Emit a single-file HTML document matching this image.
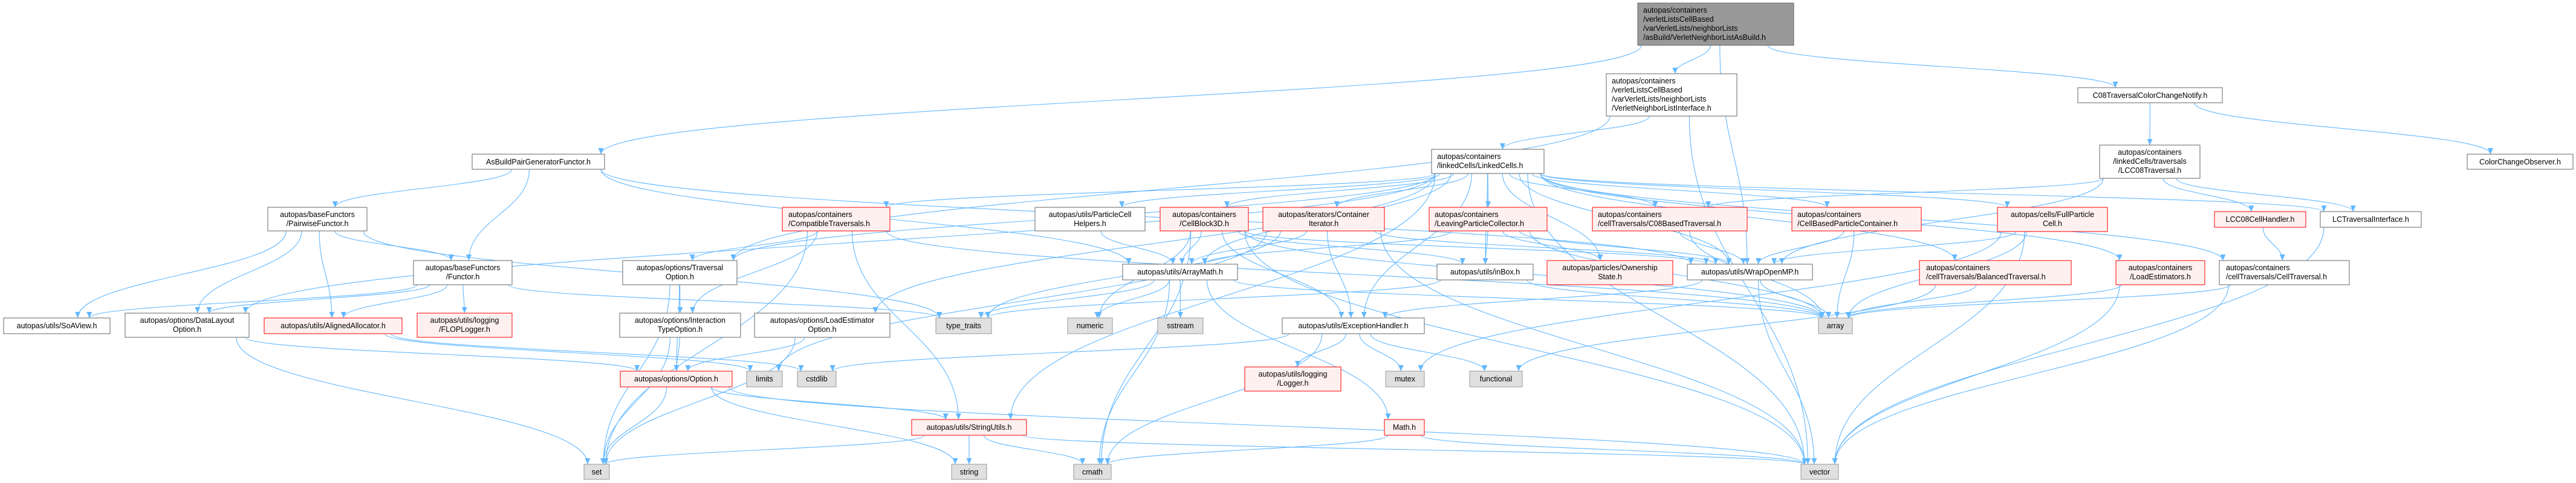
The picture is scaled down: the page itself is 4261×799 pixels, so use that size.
<!DOCTYPE html>
<html><head><meta charset="utf-8"><style>
html,body{margin:0;padding:0;background:#fff;width:4261px;height:799px;overflow:hidden}
svg{display:block}
text{font-family:"Liberation Sans",sans-serif;font-size:12.5px;fill:#000}
</style></head><body>
<svg id="g" width="4261" height="799" viewBox="0 0 4261 799" xmlns="http://www.w3.org/2000/svg">
<defs><marker id="ah" markerWidth="11" markerHeight="9" refX="10" refY="4.5" orient="auto" markerUnits="userSpaceOnUse"><path d="M0,0 L10,4.5 L0,9 z" fill="#63b8ff"/></marker></defs>
<g id="edges" fill="none" stroke="#63b8ff" stroke-width="1.1"></g>
<g id="nodes">
<rect x="2709" y="5" width="258" height="70" fill="#999" stroke="#666"/>
<text x="2718" y="21">autopas/containers</text><text x="2718" y="36">/verletListsCellBased</text><text x="2718" y="51">/varVerletLists/neighborLists</text><text x="2718" y="66">/asBuild/VerletNeighborListAsBuild.h</text>
<rect x="781" y="255" width="219" height="25" fill="#fff" stroke="#666"/><text x="890.5" y="272" text-anchor="middle">AsBuildPairGeneratorFunctor.h</text>
<rect x="443" y="343" width="164" height="39" fill="#fff" stroke="#666"/><text x="525" y="359" text-anchor="middle">autopas/baseFunctors</text><text x="525" y="374" text-anchor="middle">/PairwiseFunctor.h</text>
<rect x="684" y="431" width="163" height="40" fill="#fff" stroke="#666"/><text x="765.5" y="447" text-anchor="middle">autopas/baseFunctors</text><text x="765.5" y="462" text-anchor="middle">/Functor.h</text>
<rect x="6" y="526" width="176" height="26" fill="#fff" stroke="#666"/><text x="94" y="543" text-anchor="middle">autopas/utils/SoAView.h</text>
<rect x="207" y="518" width="205" height="40" fill="#fff" stroke="#666"/><text x="309.5" y="534" text-anchor="middle">autopas/options/DataLayout</text><text x="309.5" y="549" text-anchor="middle">Option.h</text>
<rect x="437" y="526" width="228" height="26" fill="#fff0f0" stroke="#f00"/><text x="551" y="543" text-anchor="middle">autopas/utils/AlignedAllocator.h</text>
<rect x="690" y="518" width="157" height="40" fill="#fff0f0" stroke="#f00"/><text x="768.5" y="534" text-anchor="middle">autopas/utils/logging</text><text x="768.5" y="549" text-anchor="middle">/FLOPLogger.h</text>
<rect x="1030" y="431" width="189" height="40" fill="#fff" stroke="#666"/><text x="1124.5" y="447" text-anchor="middle">autopas/options/Traversal</text><text x="1124.5" y="462" text-anchor="middle">Option.h</text>
<rect x="1025" y="518" width="200" height="40" fill="#fff" stroke="#666"/><text x="1125" y="534" text-anchor="middle">autopas/options/Interaction</text><text x="1125" y="549" text-anchor="middle">TypeOption.h</text>
<rect x="1248" y="518" width="224" height="40" fill="#fff" stroke="#666"/><text x="1360" y="534" text-anchor="middle">autopas/options/LoadEstimator</text><text x="1360" y="549" text-anchor="middle">Option.h</text>
<rect x="1026" y="614" width="185" height="26" fill="#fff0f0" stroke="#f00"/><text x="1118.5" y="631" text-anchor="middle">autopas/options/Option.h</text>
<rect x="1235" y="614" width="59" height="26" fill="#e0e0e0" stroke="#999"/><text x="1264.5" y="631" text-anchor="middle">limits</text>
<rect x="1319" y="614" width="64" height="26" fill="#e0e0e0" stroke="#999"/><text x="1351" y="631" text-anchor="middle">cstdlib</text>
<rect x="966" y="768" width="42" height="25" fill="#e0e0e0" stroke="#999"/><text x="987" y="785" text-anchor="middle">set</text>
<rect x="1548" y="526" width="92" height="26" fill="#e0e0e0" stroke="#999"/><text x="1594" y="543" text-anchor="middle">type_traits</text>
<rect x="1766" y="526" width="74" height="26" fill="#e0e0e0" stroke="#999"/><text x="1803" y="543" text-anchor="middle">numeric</text>
<rect x="1915" y="526" width="75" height="26" fill="#e0e0e0" stroke="#999"/><text x="1952.5" y="543" text-anchor="middle">sstream</text>
<rect x="1857" y="437" width="190" height="26" fill="#fff" stroke="#666"/><text x="1952" y="454" text-anchor="middle">autopas/utils/ArrayMath.h</text>
<rect x="1508" y="694" width="190" height="26" fill="#fff0f0" stroke="#f00"/><text x="1603" y="711" text-anchor="middle">autopas/utils/StringUtils.h</text>
<rect x="1574" y="768" width="58" height="25" fill="#e0e0e0" stroke="#999"/><text x="1603" y="785" text-anchor="middle">string</text>
<rect x="1776" y="768" width="62" height="25" fill="#e0e0e0" stroke="#999"/><text x="1807" y="785" text-anchor="middle">cmath</text>
<rect x="2121" y="526" width="235" height="26" fill="#fff" stroke="#666"/><text x="2238.5" y="543" text-anchor="middle">autopas/utils/ExceptionHandler.h</text>
<rect x="2059" y="607" width="159" height="40" fill="#fff0f0" stroke="#f00"/><text x="2138.5" y="623" text-anchor="middle">autopas/utils/logging</text><text x="2138.5" y="638" text-anchor="middle">/Logger.h</text>
<rect x="1294" y="343" width="178" height="39" fill="#fff0f0" stroke="#f00"/><text x="1304" y="359">autopas/containers</text><text x="1304" y="374">/CompatibleTraversals.h</text>
<rect x="1712" y="343" width="182" height="39" fill="#fff" stroke="#666"/><text x="1803" y="359" text-anchor="middle">autopas/utils/ParticleCell</text><text x="1803" y="374" text-anchor="middle">Helpers.h</text>
<rect x="1919" y="343" width="146" height="39" fill="#fff0f0" stroke="#f00"/><text x="1992" y="359" text-anchor="middle">autopas/containers</text><text x="1992" y="374" text-anchor="middle">/CellBlock3D.h</text>
<rect x="2089" y="343" width="201" height="39" fill="#fff0f0" stroke="#f00"/><text x="2189.5" y="359" text-anchor="middle">autopas/iterators/Container</text><text x="2189.5" y="374" text-anchor="middle">Iterator.h</text>
<rect x="2657" y="122" width="216" height="70" fill="#fff" stroke="#666"/><text x="2666" y="138">autopas/containers</text><text x="2666" y="153">/verletListsCellBased</text><text x="2666" y="168">/varVerletLists/neighborLists</text><text x="2666" y="183">/VerletNeighborListInterface.h</text>
<rect x="2368" y="247" width="186" height="40" fill="#fff" stroke="#666"/><text x="2377" y="263">autopas/containers</text><text x="2377" y="278">/linkedCells/LinkedCells.h</text>
<rect x="2364" y="343" width="195" height="39" fill="#fff0f0" stroke="#f00"/><text x="2373" y="359">autopas/containers</text><text x="2373" y="374">/LeavingParticleCollector.h</text>
<rect x="2634" y="343" width="256" height="39" fill="#fff0f0" stroke="#f00"/><text x="2643" y="359">autopas/containers</text><text x="2643" y="374">/cellTraversals/C08BasedTraversal.h</text>
<rect x="2964" y="343" width="214" height="39" fill="#fff0f0" stroke="#f00"/><text x="2973" y="359">autopas/containers</text><text x="2973" y="374">/CellBasedParticleContainer.h</text>
<rect x="2377" y="437" width="159" height="26" fill="#fff" stroke="#666"/><text x="2456.5" y="454" text-anchor="middle">autopas/utils/inBox.h</text>
<rect x="2559" y="431" width="208" height="40" fill="#fff0f0" stroke="#f00"/><text x="2663" y="447" text-anchor="middle">autopas/particles/Ownership</text><text x="2663" y="462" text-anchor="middle">State.h</text>
<rect x="2791" y="437" width="207" height="26" fill="#fff" stroke="#666"/><text x="2894.5" y="454" text-anchor="middle">autopas/utils/WrapOpenMP.h</text>
<rect x="3008" y="526" width="56" height="26" fill="#e0e0e0" stroke="#999"/><text x="3036" y="543" text-anchor="middle">array</text>
<rect x="3175" y="431" width="251" height="40" fill="#fff0f0" stroke="#f00"/><text x="3186" y="447">autopas/containers</text><text x="3186" y="462">/cellTraversals/BalancedTraversal.h</text>
<rect x="2292" y="614" width="64" height="26" fill="#e0e0e0" stroke="#999"/><text x="2324" y="631" text-anchor="middle">mutex</text>
<rect x="2431" y="614" width="87" height="26" fill="#e0e0e0" stroke="#999"/><text x="2474.5" y="631" text-anchor="middle">functional</text>
<rect x="2290" y="694" width="66" height="26" fill="#fff0f0" stroke="#f00"/><text x="2323" y="711" text-anchor="middle">Math.h</text>
<rect x="2979" y="768" width="62" height="25" fill="#e0e0e0" stroke="#999"/><text x="3010" y="785" text-anchor="middle">vector</text>
<rect x="3304" y="343" width="182" height="40" fill="#fff0f0" stroke="#f00"/><text x="3395" y="359" text-anchor="middle">autopas/cells/FullParticle</text><text x="3395" y="374" text-anchor="middle">Cell.h</text>
<rect x="3500" y="431" width="147" height="40" fill="#fff0f0" stroke="#f00"/><text x="3573.5" y="447" text-anchor="middle">autopas/containers</text><text x="3573.5" y="462" text-anchor="middle">/LoadEstimators.h</text>
<rect x="3671" y="431" width="215" height="40" fill="#fff" stroke="#666"/><text x="3682" y="447">autopas/containers</text><text x="3682" y="462">/cellTraversals/CellTraversal.h</text>
<rect x="3663" y="350" width="151" height="26" fill="#fff0f0" stroke="#f00"/><text x="3738.5" y="367" text-anchor="middle">LCC08CellHandler.h</text>
<rect x="3838" y="350" width="167" height="26" fill="#fff" stroke="#666"/><text x="3921.5" y="367" text-anchor="middle">LCTraversalInterface.h</text>
<rect x="3473" y="240" width="166" height="55" fill="#fff" stroke="#666"/><text x="3556" y="256" text-anchor="middle">autopas/containers</text><text x="3556" y="271" text-anchor="middle">/linkedCells/traversals</text><text x="3556" y="286" text-anchor="middle">/LCC08Traversal.h</text>
<rect x="3437" y="145" width="239" height="25" fill="#fff" stroke="#666"/><text x="3556.5" y="162" text-anchor="middle">C08TraversalColorChangeNotify.h</text>
<rect x="4081" y="255" width="175" height="25" fill="#fff" stroke="#666"/><text x="4168.5" y="272" text-anchor="middle">ColorChangeObserver.h</text>
</g>
</svg>
<script>
var N={
root:[2709,5,2967,75],asb:[781,255,1000,280],pw:[443,343,607,382],fn:[684,431,847,471],soa:[6,526,182,552],dl:[207,518,412,558],al:[437,526,665,552],flop:[690,518,847,558],
tro:[1030,431,1219,471],ito:[1025,518,1225,558],leo:[1248,518,1472,558],opt:[1026,614,1211,640],lim:[1235,614,1294,640],csl:[1319,614,1383,640],set:[966,768,1008,793],
tt:[1548,526,1640,552],num:[1766,526,1840,552],ss:[1915,526,1990,552],am:[1857,437,2047,463],su:[1508,694,1698,720],str:[1574,768,1632,793],cm:[1776,768,1838,793],
eh:[2121,526,2356,552],lg:[2059,607,2218,647],ct:[1294,343,1472,382],pch:[1712,343,1894,382],cb:[1919,343,2065,382],ci:[2089,343,2290,382],vnli:[2657,122,2873,192],
lc:[2368,247,2554,287],lp:[2364,343,2559,382],c08:[2634,343,2890,382],cbp:[2964,343,3178,382],ib:[2377,437,2536,463],own:[2559,431,2767,471],omp:[2791,437,2998,463],
arr:[3008,526,3064,552],bt:[3175,431,3426,471],mx:[2292,614,2356,640],fu:[2431,614,2518,640],ma:[2290,694,2356,720],vec:[2979,768,3041,793],fpc:[3304,343,3486,383],
les:[3500,431,3647,471],ctv:[3671,431,3886,471],lch:[3663,350,3814,376],lti:[3838,350,4005,376],lcc:[3473,240,3639,295],cn:[3437,145,3676,170],cco:[4081,255,4256,280]};
var E=[["root","asb"],["root","vnli"],["root","cn"],["root","omp"],
["asb","pw"],["asb","fn"],["asb","am"],["asb","omp"],
["vnli","lc"],["vnli","tro"],["vnli","vec"],
["lc","ct"],["lc","pch"],["lc","cb"],["lc","ci"],["lc","lp"],["lc","c08"],["lc","cbp"],["lc","fpc"],["lc","les"],["lc","ctv"],["lc","lti"],["lc","bt"],["lc","dl"],["lc","leo"],["lc","tro"],["lc","am"],["lc","ib"],["lc","omp"],["lc","own"],["lc","su"],["lc","vec"],["lc","eh"],
["cn","lcc"],["cn","cco"],["lcc","lch"],["lcc","lti"],["lcc","c08"],["lcc","omp"],["lch","ctv"],["lti","vec"],["ctv","vec"],["ctv","arr"],["les","vec"],["les","arr"],
["fpc","vec"],["fpc","mx"],["fpc","arr"],["fpc","omp"],["bt","arr"],["bt","fu"],["cbp","arr"],["cbp","omp"],["c08","omp"],["c08","arr"],
["cb","am"],["cb","ib"],["cb","eh"],["cb","cm"],["cb","vec"],["cb","arr"],["cb","num"],["cb","omp"],
["ci","am"],["ci","eh"],["ci","omp"],["ci","tt"],["ci","vec"],["ci","lim"],["lp","ib"],["lp","am"],["lp","omp"],["lp","own"],["lp","arr"],["pch","am"],
["ct","tro"],["ct","ito"],["ct","su"],["ct","set"],["ct","arr"],
["pw","soa"],["pw","dl"],["pw","al"],["pw","fn"],["pw","tt"],
["fn","soa"],["fn","dl"],["fn","al"],["fn","flop"],["fn","tt"],
["dl","opt"],["dl","set"],["al","csl"],["al","lim"],["tro","ito"],["tro","opt"],["tro","set"],["ito","opt"],["ito","set"],["leo","opt"],["leo","set"],
["opt","set"],["opt","str"],["opt","su"],["opt","vec"],["su","set"],["su","str"],["su","cm"],["su","vec"],
["am","num"],["am","ss"],["am","cm"],["am","ma"],["am","tt"],["am","arr"],["ib","arr"],["ib","tt"],["omp","eh"],["omp","vec"],["omp","arr"],
["eh","lg"],["eh","mx"],["eh","fu"],["eh","csl"],["eh","cm"],["ma","cm"],["ma","vec"]];
var g=document.getElementById("edges"),s="";
function cl(v,a,b){return Math.max(a,Math.min(b,v));}
E.forEach(function(e){var a=N[e[0]],b=N[e[1]];if(!a||!b)return;
var acx=(a[0]+a[2])/2,bcx=(b[0]+b[2])/2;
var sx=cl(acx+(bcx-acx)*0.12,a[0]+6,a[2]-6),sy=a[3];
var tx=cl(bcx+(acx-bcx)*0.08,b[0]+6,b[2]-6),ty=b[1];
var d=(ty-sy)*0.45;
s+='<path d="M'+sx.toFixed(1)+','+sy+' C'+sx.toFixed(1)+','+(sy+d).toFixed(1)+' '+tx.toFixed(1)+','+(ty-d).toFixed(1)+' '+tx.toFixed(1)+','+ty+'" marker-end="url(#ah)"/>';});
g.innerHTML=s;
</script>
</body></html>
